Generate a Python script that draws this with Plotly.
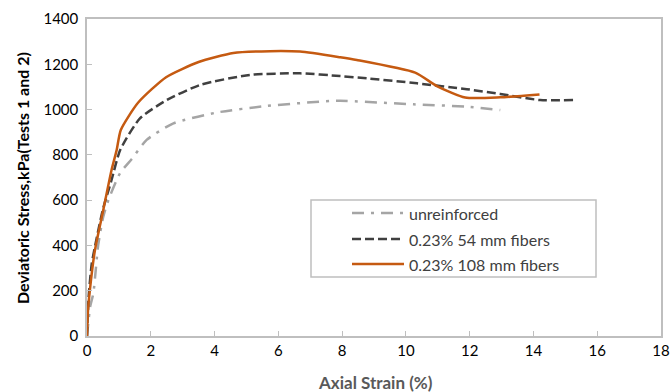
import plotly.graph_objects as go

# unreinforced
x_unr = [0, 0.1, 0.2, 0.35, 0.51, 0.67, 1.04, 1.4, 1.87, 2.71, 4.07, 5.64, 7.62, 7.94, 10.24, 11.91, 12.96]
y_unr = [0, 130, 190, 400, 527, 600, 720, 781, 866, 939, 987, 1016, 1038, 1039, 1023, 1013, 998]

# 0.23% 54 mm fibers
x_54 = [0, 0.05, 0.15, 0.3, 0.5, 0.77, 1.04, 1.66, 2.5, 3.55, 5.11, 6.68, 7.94, 8.78, 10.35, 11.91, 12.96, 14.21, 15.26]
y_54 = [0, 170, 320, 430, 560, 689, 821, 961, 1042, 1109, 1153, 1160, 1148, 1138, 1116, 1090, 1069, 1042, 1042]

# 0.23% 108 mm fibers
x_108 = [0, 0.03, 0.09, 0.25, 0.51, 0.77, 0.93, 1.06, 1.6, 2.48, 3.5, 4.59, 5.74, 6.68, 7.94, 8.46, 10.29, 10.97, 11.86, 12.96, 14.19]
y_108 = [0, 110, 203, 380, 556, 733, 821, 910, 1030, 1143, 1210, 1250, 1258, 1256, 1231, 1219, 1163, 1104, 1053, 1054, 1067]

series_names = ["unreinforced", "0.23% 54 mm fibers", "0.23% 108 mm fibers"]
x_ticks = [0, 2, 4, 6, 8, 10, 12, 14, 16, 18]
y_ticks = [0, 200, 400, 600, 800, 1000, 1200, 1400]

FONT = "Lato"
AXIS_COLOR = "#BFBFBF"
colors = ["#A5A5A5", "#404040", "#C55A11"]
dashes = ["12px,7px,3px,7px", "9px,4px", "solid"]

W, H = 672, 392
L, R, T, B = 87, 11, 19, 56
PW, PH = W - L - R, H - T - B


def px_x(p):
    return (p - L) / PW


def px_y(p):
    return (H - B - p) / PH


fig = go.Figure()
for xs, ys, name, c, d in zip([x_unr, x_54, x_108], [y_unr, y_54, y_108], series_names, colors, dashes):
    fig.add_trace(go.Scatter(x=xs, y=ys, mode="lines", name=name, showlegend=False,
                             line=dict(color=c, width=2.5, dash=d, shape="spline", smoothing=0.6)))

# custom legend box
shapes = [dict(type="rect", xref="paper", yref="paper",
               x0=px_x(311), x1=px_x(596), y0=px_y(277), y1=px_y(200),
               line=dict(color=AXIS_COLOR, width=1.5), fillcolor="white", layer="above")]
annotations = []
for i, (name, c, d) in enumerate(zip(series_names, colors, dashes)):
    yy = [213, 239, 264][i]
    shapes.append(dict(type="line", xref="paper", yref="paper",
                       x0=px_x(352), x1=px_x(404), y0=px_y(yy), y1=px_y(yy),
                       line=dict(color=c, width=2.5, dash=d), layer="above"))
    annotations.append(dict(xref="paper", yref="paper", x=px_x(407), y=px_y(yy),
                            xanchor="left", yanchor="middle", showarrow=False,
                            text=name, font=dict(family=FONT, size=16, color="#404040")))

# axis titles as annotations for exact placement
annotations.append(dict(xref="paper", yref="paper", x=px_x(375), y=px_y(382),
                        xanchor="center", yanchor="middle", showarrow=False,
                        text="<b>Axial Strain (%)</b>", font=dict(family=FONT, size=17, color="#595959")))
annotations.append(dict(xref="paper", yref="paper", x=px_x(22), y=px_y(178),
                        xanchor="center", yanchor="middle", showarrow=False, textangle=-90,
                        text="<b>Deviatoric Stress,kPa(Tests 1 and 2)</b>", font=dict(family=FONT, size=16, color="#000000")))

fig.update_layout(
    width=W, height=H,
    margin=dict(l=L, r=R, t=T, b=B),
    paper_bgcolor="white", plot_bgcolor="white",
    font=dict(family=FONT, size=15, color="#000000"),
    showlegend=False,
    shapes=shapes,
    annotations=annotations,
    xaxis=dict(range=[0, 18], tickvals=x_ticks, showgrid=False, zeroline=False, automargin=False,
               showline=True, linecolor=AXIS_COLOR, linewidth=1.5, mirror=True,
               ticks="inside", ticklen=5, tickcolor=AXIS_COLOR, tickwidth=1,
               tickfont=dict(family=FONT, size=15, color="#000000")),
    yaxis=dict(range=[0, 1400], tickvals=y_ticks, showgrid=False, zeroline=False, automargin=False,
               showline=True, linecolor=AXIS_COLOR, linewidth=1.5, mirror=True,
               ticks="inside", ticklen=5, tickcolor=AXIS_COLOR, tickwidth=1,
               tickfont=dict(family=FONT, size=15, color="#000000"),
               ticklabelstandoff=4),
)

fig.write_html("out.html")
